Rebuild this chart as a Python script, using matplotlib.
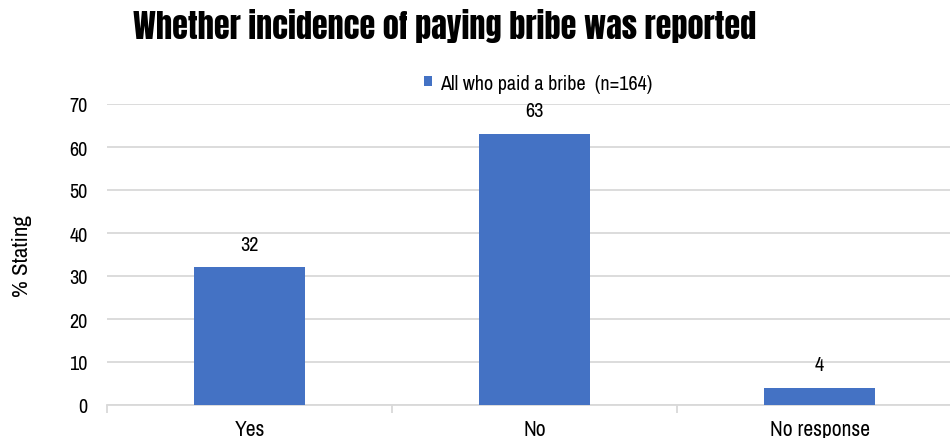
import matplotlib
matplotlib.use("Agg")
import matplotlib.pyplot as plt
from matplotlib import font_manager
from matplotlib.ticker import FixedLocator, MultipleLocator

categories = ["Yes", "No", "No response"]
values = [32, 63, 4]
series_name = "All who paid a bribe  (n=164)"
title = "Whether incidence of paying bribe was reported"
y_label = "% Stating"

BAR = "#4472C4"
GRID = "#D9D9D9"

installed = {f.name for f in font_manager.fontManager.ttflist}
def pick(*names):
    found = [n for n in names if n in installed]
    return found + ["DejaVu Sans"]

BODY = pick("Liberation Sans Narrow", "Archivo Narrow", "Roboto Condensed", "Arimo", "Liberation Sans")
HEAD = pick("Anton", "Oswald", "Bebas Neue", "Fjalla One", "Roboto Condensed")

plt.rcParams["font.family"] = BODY

W, H = 950, 439
fig = plt.figure(figsize=(W / 100, H / 100), dpi=100)

# three category slots; the rightmost part runs past the figure edge
left, right = 107, 962
bottom, top = 406, 105
ax = fig.add_axes([left / W, (H - bottom) / H, (right - left) / W, (bottom - top) / H])

x = list(range(len(categories)))
ax.bar(x, values, width=0.386, color=BAR, zorder=3, label=series_name)
for xi, v in zip(x, values):
    ax.annotate(f"{v}", (xi, v), xytext=(0, 10), textcoords="offset points",
                ha="center", va="bottom", fontsize=14.5, color="#000000")

ax.set_xlim(-0.5, len(categories) - 0.5)
ax.set_ylim(0, 70)
ax.yaxis.set_major_locator(MultipleLocator(10))
ax.grid(axis="y", color=GRID, linewidth=1.3, zorder=0)
ax.set_axisbelow(True)

ax.set_xticks(x)
ax.set_xticklabels(categories)
ax.xaxis.set_minor_locator(FixedLocator([i - 0.5 for i in range(len(categories) + 1)]))
ax.tick_params(axis="x", which="major", length=0, pad=10, labelsize=15.5)
ax.tick_params(axis="x", which="minor", length=6, color=GRID, width=1.3)
ax.tick_params(axis="y", length=0, pad=14, labelsize=14.5)

for side in ("top", "right", "left"):
    ax.spines[side].set_visible(False)
ax.spines["bottom"].set_color(GRID)
ax.spines["bottom"].set_linewidth(1.3)

fig.text(22 / W, 1 - 256 / H, y_label, rotation=90, ha="center", va="center", fontsize=16.5)

t = fig.text(133 / W, 1 - 26 / H, title, ha="left", va="center",
             family=HEAD, fontsize=24, fontweight="bold")
# fit the heading to its span
renderer = fig.canvas.get_renderer()
w = t.get_window_extent(renderer).width
t.set_fontsize(24 * 624 / w)

ax.legend(loc="center", bbox_to_anchor=(538 / W, 1 - 84 / H), bbox_transform=fig.transFigure,
          frameon=False, fontsize=14.5, handlelength=0.4, handleheight=0.4,
          handletextpad=0.4, borderpad=0)

fig.savefig("out.png", dpi=100)
